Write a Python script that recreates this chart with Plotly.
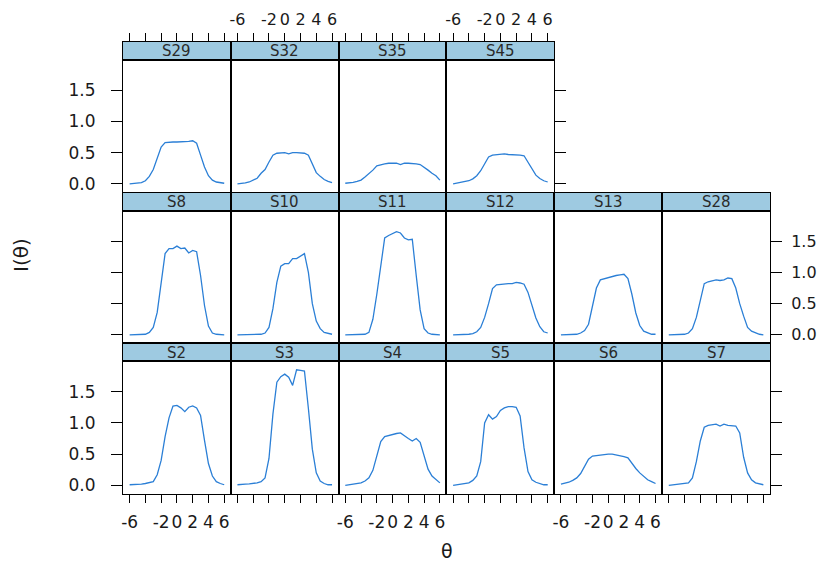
import plotly.graph_objects as go

# ---------------- data ----------------
THETA = [-6.0, -5.5, -5.0, -4.5, -4.0, -3.5, -3.0, -2.5, -2.0, -1.5, -1.0, -0.5,
         0.0, 0.5, 1.0, 1.5, 2.0, 2.5, 3.0, 3.5, 4.0, 4.5, 5.0, 5.5, 6.0]

S29 = [0.00, 0.005, 0.01, 0.02, 0.05, 0.12, 0.23, 0.40, 0.59, 0.66, 0.67, 0.67, 0.67,
       0.67, 0.67, 0.68, 0.69, 0.65, 0.46, 0.27, 0.13, 0.06, 0.03, 0.02, 0.01]
S32 = [0.00, 0.005, 0.015, 0.03, 0.06, 0.09, 0.17, 0.23, 0.35, 0.46, 0.49, 0.49, 0.50,
       0.48, 0.50, 0.50, 0.50, 0.49, 0.46, 0.31, 0.18, 0.12, 0.07, 0.04, 0.02]
S35 = [0.01, 0.015, 0.025, 0.04, 0.06, 0.11, 0.16, 0.22, 0.29, 0.31, 0.32, 0.33, 0.33,
       0.33, 0.31, 0.33, 0.33, 0.33, 0.32, 0.31, 0.27, 0.22, 0.17, 0.13, 0.06]
S45 = [0.00, 0.01, 0.02, 0.03, 0.05, 0.08, 0.13, 0.21, 0.33, 0.43, 0.46, 0.47, 0.48,
       0.48, 0.47, 0.47, 0.47, 0.46, 0.45, 0.35, 0.25, 0.14, 0.085, 0.05, 0.03]
S8 = [0.00, 0.00, 0.00, 0.00, 0.01, 0.04, 0.12, 0.36, 0.85, 1.30, 1.38, 1.38, 1.42,
      1.38, 1.39, 1.31, 1.35, 1.33, 0.95, 0.47, 0.14, 0.03, 0.01, 0.00, 0.00]
S10 = [0.00, 0.00, 0.00, 0.00, 0.00, 0.005, 0.01, 0.03, 0.12, 0.42, 0.84, 1.10, 1.14,
       1.14, 1.22, 1.22, 1.26, 1.30, 1.00, 0.50, 0.22, 0.10, 0.04, 0.02, 0.01]
S11 = [0.00, 0.00, 0.00, 0.00, 0.00, 0.01, 0.04, 0.25, 0.65, 1.10, 1.55, 1.59, 1.62,
       1.65, 1.63, 1.55, 1.52, 1.53, 0.95, 0.40, 0.10, 0.03, 0.01, 0.00, 0.00]
S12 = [0.00, 0.00, 0.005, 0.005, 0.01, 0.02, 0.05, 0.12, 0.28, 0.50, 0.74, 0.80, 0.81,
       0.81, 0.82, 0.82, 0.84, 0.83, 0.81, 0.68, 0.46, 0.27, 0.13, 0.05, 0.03]
S13 = [0.00, 0.00, 0.00, 0.005, 0.01, 0.03, 0.07, 0.17, 0.45, 0.75, 0.88, 0.90, 0.91,
       0.93, 0.95, 0.96, 0.97, 0.90, 0.65, 0.35, 0.15, 0.06, 0.03, 0.01, 0.01]
S28 = [0.00, 0.00, 0.00, 0.00, 0.01, 0.03, 0.10, 0.28, 0.55, 0.82, 0.85, 0.86, 0.88,
       0.87, 0.88, 0.91, 0.90, 0.75, 0.50, 0.30, 0.12, 0.06, 0.03, 0.01, 0.00]
S2 = [0.01, 0.01, 0.015, 0.02, 0.03, 0.04, 0.06, 0.17, 0.40, 0.78, 1.08, 1.27, 1.28,
      1.24, 1.18, 1.25, 1.27, 1.24, 1.12, 0.72, 0.35, 0.15, 0.06, 0.03, 0.01]
S3 = [0.01, 0.01, 0.02, 0.025, 0.03, 0.04, 0.06, 0.12, 0.43, 1.14, 1.65, 1.74, 1.78,
      1.73, 1.60, 1.85, 1.84, 1.83, 1.23, 0.58, 0.20, 0.07, 0.03, 0.01, 0.01]
S4 = [0.00, 0.01, 0.02, 0.03, 0.04, 0.07, 0.12, 0.24, 0.45, 0.70, 0.78, 0.80, 0.81,
      0.83, 0.84, 0.79, 0.75, 0.71, 0.75, 0.69, 0.47, 0.26, 0.15, 0.09, 0.04]
S5 = [0.00, 0.01, 0.02, 0.03, 0.04, 0.08, 0.15, 0.38, 1.00, 1.13, 1.06, 1.10, 1.20,
      1.24, 1.26, 1.26, 1.25, 1.11, 0.60, 0.22, 0.09, 0.05, 0.03, 0.01, 0.01]
S6 = [0.02, 0.03, 0.05, 0.08, 0.12, 0.19, 0.31, 0.42, 0.47, 0.48, 0.49, 0.50, 0.50,
      0.50, 0.49, 0.48, 0.46, 0.44, 0.35, 0.27, 0.20, 0.14, 0.09, 0.06, 0.03]
S7 = [0.00, 0.01, 0.01, 0.02, 0.03, 0.04, 0.12, 0.38, 0.71, 0.93, 0.96, 0.97, 0.98,
      0.95, 0.98, 0.96, 0.95, 0.95, 0.84, 0.45, 0.20, 0.09, 0.04, 0.02, 0.01]

ROW_TOP = ["S29", "S32", "S35", "S45"]
ROW_MID = ["S8", "S10", "S11", "S12", "S13", "S28"]
ROW_BOT = ["S2", "S3", "S4", "S5", "S6", "S7"]

SERIES = {"S29": S29, "S32": S32, "S35": S35, "S45": S45,
          "S8": S8, "S10": S10, "S11": S11, "S12": S12, "S13": S13, "S28": S28,
          "S2": S2, "S3": S3, "S4": S4, "S5": S5, "S6": S6, "S7": S7}

X_TICKS = [-6, -4, -2, 0, 2, 4, 6]
X_TICKTEXT = ["-6", "", "-2", "0", "2", "4", "6"]
Y_TICKS = [0.0, 0.5, 1.0, 1.5]
Y_TICKTEXT = ["0.0", "0.5", "1.0", "1.5"]
X_TITLE = "θ"
Y_TITLE = "I(θ)"

# ---------------- layout geometry / style ----------------
# The page body has an 8 px margin, so the figure is drawn 8 px smaller on
# each side and all positions are measured in window pixels minus that offset.
OFF = 8
W, H = 826 - 2 * OFF, 570 - 2 * OFF
COL_LEFT = 123.0
COL_W = 107.83
STRIP_TOP = [41.5, 192.5, 343.0]
STRIP_H = 18.0
PANEL_H = 132.5
XR = [-6.84, 6.84]
YR = [-0.13, 1.99]

LINE_COL = "#2b7fd6"
STRIP_COL = "#9ecae1"
TXT = "#1a1a1a"
FONT = "DejaVu Sans"
TICKFONT = dict(family=FONT, size=17, color=TXT)
TOPTICKFONT = dict(family=FONT, size=16, color=TXT)
RIGHTTICKFONT = dict(family=FONT, size=16, color=TXT)


def fx(p):
    return (p - OFF) / W


def fy(p):
    return 1 - (p - OFF) / H


fig = go.Figure()
axes = {}
shapes = []
annotations = []


def xname(i):
    return "x" if i == 1 else f"x{i}"


def yname(i):
    return "y" if i == 1 else f"y{i}"


def lkey(prefix, i):
    return prefix if i == 1 else f"{prefix}{i}"


axid = 0
rows = [ROW_TOP, ROW_MID, ROW_BOT]
for r, row in enumerate(rows):
    for c, name in enumerate(row):
        x0 = COL_LEFT + c * COL_W
        x1 = x0 + COL_W
        st_top = STRIP_TOP[r]
        st_bot = st_top + STRIP_H
        p_bot = st_bot + PANEL_H
        last = (c == len(row) - 1)

        # ---- panel ----
        axid += 1
        pid = axid
        axes[lkey("xaxis", pid)] = dict(
            domain=[fx(x0), fx(x1)], range=XR, anchor=yname(pid), automargin=False,
            tickmode="array", tickvals=X_TICKS, ticktext=X_TICKTEXT,
            showline=True, mirror=True, linecolor="black", linewidth=1,
            showgrid=False, zeroline=False,
            ticks="outside" if r == 2 else "", ticklen=8, tickwidth=1, tickcolor="black",
            showticklabels=(r == 2 and c in (0, 2, 4)), tickangle=0,
            tickfont=TICKFONT, ticklabelstandoff=5, side="bottom")
        ax_side = "right" if last else "left"
        has_ticks = (c == 0) or last
        labels = (c == 0 and r != 1) or (last and r == 1)
        axes[lkey("yaxis", pid)] = dict(
            domain=[fy(p_bot), fy(st_bot)], range=YR, anchor=xname(pid),
            automargin=False,
            tickmode="array", tickvals=Y_TICKS, ticktext=Y_TICKTEXT,
            showline=True, mirror=True, linecolor="black", linewidth=1,
            showgrid=False, zeroline=False,
            ticks="outside" if has_ticks else "", ticklen=11, tickwidth=1, tickcolor="black",
            showticklabels=labels,
            tickfont=TICKFONT if ax_side == "left" else RIGHTTICKFONT,
            ticklabelstandoff=12 if ax_side == "left" else 6, side=ax_side)
        fig.add_trace(go.Scatter(
            x=THETA, y=SERIES[name], mode="lines", xaxis=xname(pid), yaxis=yname(pid),
            line=dict(color=LINE_COL, width=1.3), showlegend=False, hoverinfo="x+y"))

        # ---- strip ----
        axid += 1
        sid = axid
        axes[lkey("xaxis", sid)] = dict(
            domain=[fx(x0), fx(x1)], range=XR, anchor=yname(sid), automargin=False,
            tickmode="array", tickvals=X_TICKS, ticktext=X_TICKTEXT,
            showline=True, mirror=True, linecolor="black", linewidth=1,
            showgrid=False, zeroline=False,
            ticks="outside" if r == 0 else "", ticklen=8, tickwidth=1, tickcolor="black",
            showticklabels=(r == 0 and c in (1, 3)), tickangle=0,
            tickfont=TOPTICKFONT, ticklabelstandoff=1, side="top")
        axes[lkey("yaxis", sid)] = dict(
            domain=[fy(st_bot), fy(st_top)], range=[0, 1], anchor=xname(sid),
            automargin=False,
            showline=True, mirror=True, linecolor="black", linewidth=1,
            showgrid=False, zeroline=False, ticks="", showticklabels=False)
        fig.add_trace(go.Scatter(
            x=[None], y=[None], mode="lines", xaxis=xname(sid), yaxis=yname(sid),
            showlegend=False, hoverinfo="skip"))
        shapes.append(dict(type="rect", xref="paper", yref="paper",
                           x0=fx(x0), x1=fx(x1), y0=fy(st_bot), y1=fy(st_top),
                           fillcolor=STRIP_COL, line=dict(width=0), layer="below"))
        annotations.append(dict(text=name, xref="paper", yref="paper",
                                x=fx((x0 + x1) / 2), y=fy(st_top + STRIP_H / 2 + 0.5),
                                xanchor="center", yanchor="middle", showarrow=False,
                                font=dict(family=FONT, size=15, color="#2a2a2a")))

annotations.append(dict(text=X_TITLE, xref="paper", yref="paper",
                        x=fx(446.5), y=fy(550.5), xanchor="center", yanchor="middle",
                        showarrow=False, font=dict(family=FONT, size=19, color=TXT)))
annotations.append(dict(text=Y_TITLE, xref="paper", yref="paper",
                        x=fx(21), y=fy(255), xanchor="center", yanchor="middle",
                        showarrow=False, textangle=-90,
                        font=dict(family=FONT, size=20, color=TXT)))

fig.update_layout(
    width=W, height=H, margin=dict(l=0, r=0, t=0, b=0, autoexpand=False),
    plot_bgcolor="rgba(0,0,0,0)", paper_bgcolor="white", showlegend=False,
    shapes=shapes, annotations=annotations, **axes)

fig.write_html("out.html")
